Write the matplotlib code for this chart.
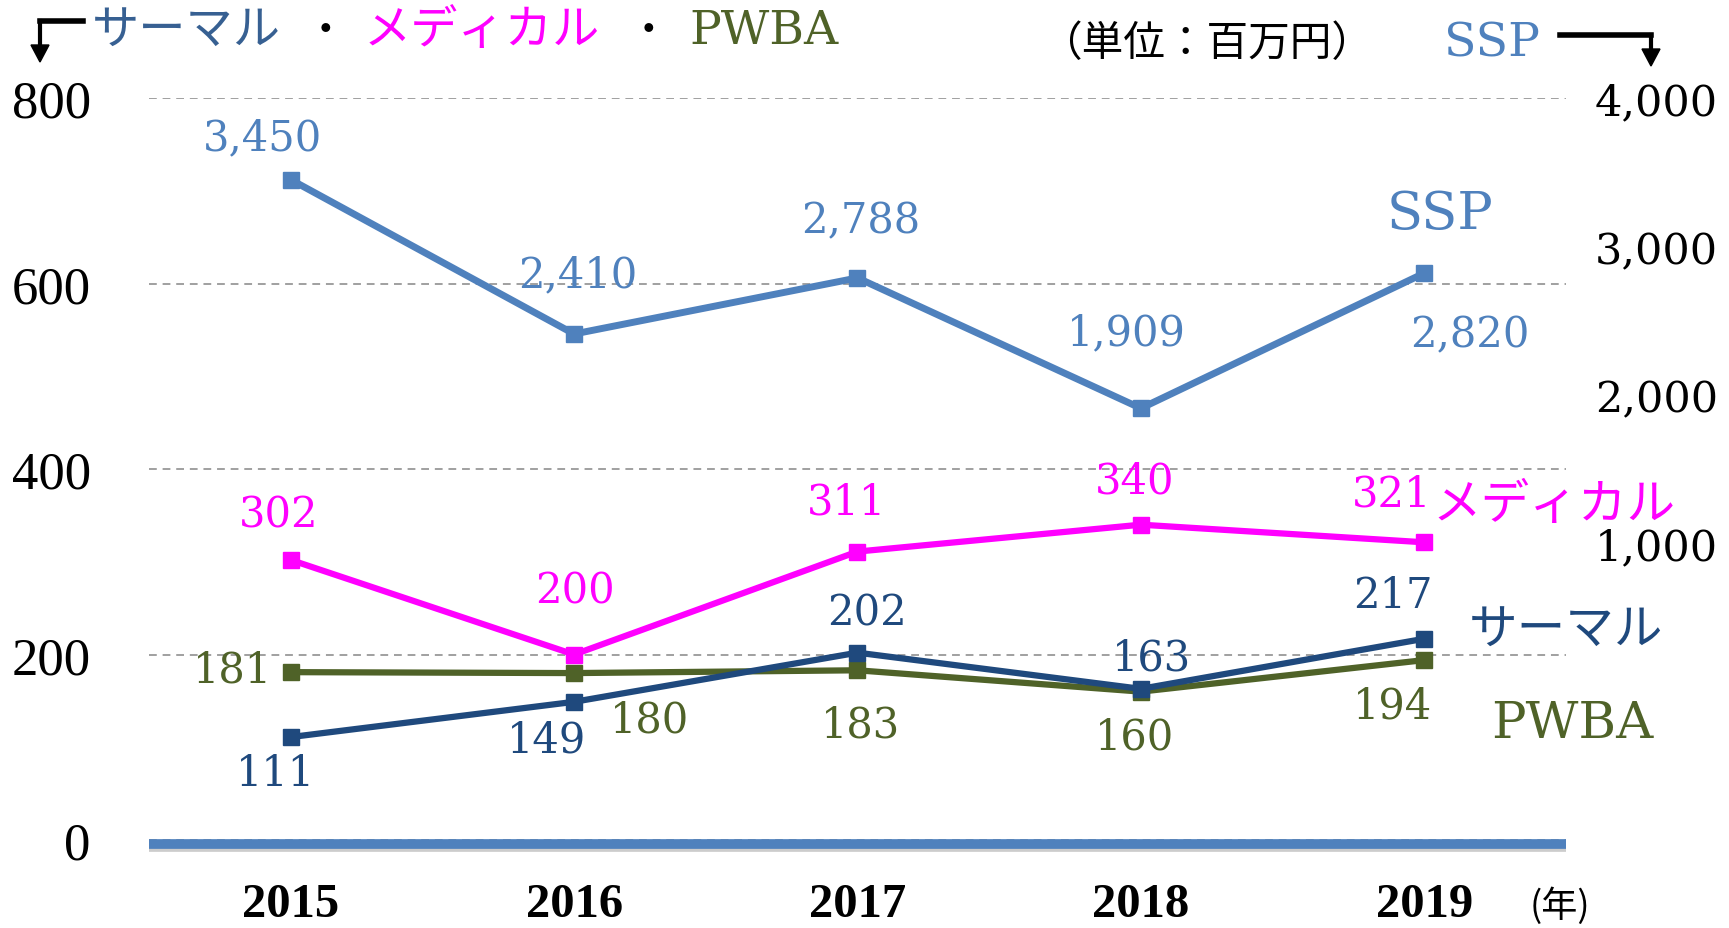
import matplotlib
matplotlib.use("Agg")
import matplotlib.pyplot as plt
from matplotlib import patheffects
from matplotlib.ticker import FuncFormatter
import numpy as np

plt.rcParams['font.family'] = ['Liberation Serif', 'Noto Sans CJK JP']

years = ['2015', '2016', '2017', '2018', '2019']
thermal = [111, 149, 202, 163, 217]
medical = [302, 200, 311, 340, 321]
pwba = [181, 180, 183, 160, 194]
ssp = [3450, 2410, 2788, 1909, 2820]

c_ssp = '#4F81BD'
c_thermal = '#1F497D'
c_medical = '#FF00FF'
c_pwba = '#4F6228'

# label offsets in pixels (dx, dy) for each point
off_ssp = [(-28, 42), (4, 60), (3, 58), (-15, 76), (46, -61)]
off_medical = [(-12, 45), (1, 64), (-11, 50), (-6, 44), (-33, 49)]
off_thermal = [(-15, -36), (-28, -38), (10, 40), (11, 31), (-31, 44)]
off_pwba = [(-58, 3), (75, -46), (3, -54), (-6, -45), (-32, -45)]

JP = 'Noto Sans CJK JP'
NUM = 'DejaVu Serif'

fig = plt.figure(figsize=(17.29, 9.29), dpi=100)
ax = fig.add_axes([0.0862, 0.0947, 0.8195, 0.7987])
x = np.arange(len(years))
ax.set_xlim(-0.5, 4.5)
ax.set_ylim(0, 800)
for s in ax.spines.values():
    s.set_visible(False)
ax.set_yticks([0, 200, 400, 600, 800])
ax.tick_params(axis='y', length=0, pad=42, labelsize=38)
ax.yaxis.grid(True, color='#A0A0A0', linestyle=(0, (4, 3)), linewidth=1.4)
ax.set_axisbelow(True)
ax.set_xticks(x)
ax.set_xticklabels(years, fontweight='bold', fontsize=35)
ax.tick_params(axis='x', length=0, pad=30)

# thick base line with a soft shadow
ax.axhline(0, color=c_ssp, linewidth=7, zorder=1, clip_on=False, solid_capstyle='butt',
           path_effects=[patheffects.SimpleLineShadow(offset=(0, -5), shadow_color='gray', alpha=0.4),
                         patheffects.SimpleLineShadow(offset=(0, -3), shadow_color=c_ssp, alpha=1.0)])

ax2 = ax.twinx()
ax2.set_ylim(-1000, 4000)
for s in ax2.spines.values():
    s.set_visible(False)
ax2.set_yticks([1000, 2000, 3000, 4000])
ax2.yaxis.set_major_formatter(FuncFormatter(lambda v, p: f'{int(v):,}'))
ax2.tick_params(axis='y', length=0, pad=21)
for t in ax2.get_yticklabels():
    t.set_family(NUM)
    t.set_fontsize(31)

ax.plot(x, pwba, color=c_pwba, lw=4.5, marker='s', ms=11, zorder=3)
ax.plot(x, thermal, color=c_thermal, lw=4.5, marker='s', ms=11, zorder=4)
ax.plot(x, medical, color=c_medical, lw=4.5, marker='s', ms=11, zorder=5)
ax2.plot(x, ssp, color=c_ssp, lw=5, marker='s', ms=11, zorder=5)


def labels(a, vals, offs, color):
    for xi, v, (dx, dy) in zip(x, vals, offs):
        a.annotate(f'{v:,}', (xi, v), xytext=(dx, dy), textcoords='offset pixels',
                   ha='center', va='center', color=color, fontsize=30, family=NUM)


labels(ax, pwba, off_pwba, c_pwba)
labels(ax, thermal, off_thermal, c_thermal)
labels(ax, medical, off_medical, c_medical)
labels(ax2, ssp, off_ssp, c_ssp)

W, H = 1729, 929


def ftext(px, py, s, **kw):
    fig.text(px / W, 1 - py / H, s, **kw)


# header
ftext(92, 31, 'サーマル', color='#376092', fontsize=34, family=JP, va='center')
ftext(325, 31, '・', color='black', fontsize=30, family=JP, va='center', ha='center')
ftext(364, 31, 'メディカル', color=c_medical, fontsize=34, family=JP, va='center')
ftext(648, 31, '・', color='black', fontsize=30, family=JP, va='center', ha='center')
ftext(689, 31, 'PWBA', color=c_pwba, fontsize=34, family=NUM, va='center')
ftext(1040, 44, '（単位：百万円）', color='black', fontsize=30, family=JP, va='center')
ftext(1444, 44, 'SSP', color=c_ssp, fontsize=34, family=NUM, va='center')
ftext(1530, 906, '(年)', color='black', fontsize=26, family=JP, va='center')

# side series names
ftext(1387, 215, 'SSP', color=c_ssp, fontsize=38, family=NUM, va='center')
ftext(1432, 505, 'メディカル', color=c_medical, fontsize=35, family=JP, va='center')
ftext(1469, 631, 'サーマル', color=c_thermal, fontsize=35, family=JP, va='center')
ftext(1491, 724, 'PWBA', color=c_pwba, fontsize=37, family=NUM, va='center')

# corner arrows
fig.add_artist(plt.Line2D([83 / W, 40 / W], [1 - 22 / H, 1 - 22 / H], color='black', lw=4))
fig.add_artist(plt.Line2D([40 / W, 40 / W], [1 - 22 / H, 1 - 50 / H], color='black', lw=3))
fig.add_artist(plt.Polygon([[31 / W, 1 - 46 / H], [49 / W, 1 - 46 / H], [40 / W, 1 - 63 / H]],
                           closed=True, color='black', transform=fig.transFigure))
fig.add_artist(plt.Line2D([1560 / W, 1651 / W], [1 - 36 / H, 1 - 36 / H], color='black', lw=4))
fig.add_artist(plt.Line2D([1651 / W, 1651 / W], [1 - 36 / H, 1 - 52 / H], color='black', lw=3))
fig.add_artist(plt.Polygon([[1642 / W, 1 - 50 / H], [1660 / W, 1 - 50 / H], [1651 / W, 1 - 67 / H]],
                           closed=True, color='black', transform=fig.transFigure))

fig.savefig('out.png', dpi=100)
